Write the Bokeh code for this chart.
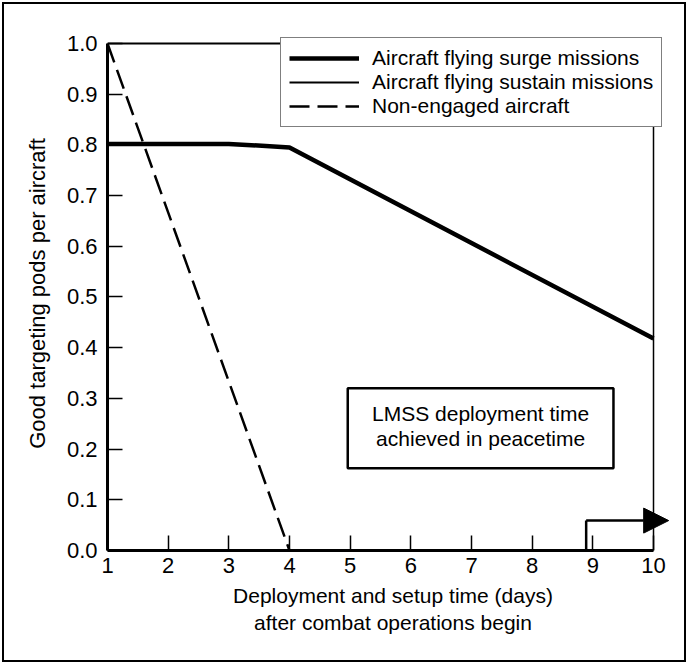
from bokeh.plotting import figure
from bokeh.models import (Range1d, FixedTicker, NumeralTickFormatter, Legend, LegendItem,
                          Arrow, NormalHead)
from bokeh.core.properties import value
from bokeh.embed import file_html
from bokeh.resources import INLINE

# ---- data ----
x_ticks = [1, 2, 3, 4, 5, 6, 7, 8, 9, 10]
y_ticks = [0.0, 0.1, 0.2, 0.3, 0.4, 0.5, 0.6, 0.7, 0.8, 0.9, 1.0]

surge_days = [1, 3, 4, 10]
surge_pods = [0.802, 0.802, 0.795, 0.418]

sustain_days = [1, 10]
sustain_pods = [1.0, 1.0]

nonengaged_days = [1, 4, 10]
nonengaged_pods = [1.0, 0.0, 0.0]

series_names = ["Aircraft flying surge missions",
                "Aircraft flying sustain missions",
                "Non-engaged aircraft"]

lmss_day = 8.89
lmss_level = 0.059
arrow_tip_day = 10.25
box_text = ["LMSS deployment time", "achieved in peacetime"]

FONT = "Liberation Sans"

p = figure(width=688, height=664, output_backend="svg", toolbar_location=None,
           x_range=Range1d(1, 10.412), y_range=Range1d(0, 1.0138),
           min_border_left=107, min_border_right=10, min_border_top=36, min_border_bottom=114)
p.outline_line_color = None
p.grid.visible = False
p.background_fill_color = "white"
# transparent margins so the exhibit's outer frame (CSS outline) shows through
p.border_fill_color = None
p.border_fill_alpha = 0
p.styles = {"outline": "2px solid black", "outline-offset": "-4px", "background-color": "white"}

# right frame edge
p.line(x=[10, 10], y=[0, 1.0], line_color="black", line_width=1.5)

r_sustain = p.line(x=sustain_days, y=sustain_pods, line_color="black", line_width=1.8)
r_nonengaged = p.line(x=nonengaged_days, y=nonengaged_pods, line_color="black",
                      line_width=2.5, line_dash="20 8")
r_surge = p.line(x=surge_days, y=surge_pods, line_color="black", line_width=4.5)

# LMSS box
p.quad(left=[4.96], right=[9.34], bottom=[0.162], top=[0.32],
       fill_color="white", line_color="black", line_width=2.5)
p.text(x=[7.15, 7.15], y=[0.270, 0.221], text=box_text,
       text_align="center", text_baseline="middle",
       text_font=value(FONT), text_font_size="21px", text_color="black")

# LMSS arrow
p.line(x=[lmss_day, lmss_day], y=[0, lmss_level], line_color="black", line_width=2.5)
p.add_layout(Arrow(x_start=lmss_day, y_start=lmss_level, x_end=arrow_tip_day, y_end=lmss_level,
                   line_color="black", line_width=2.5,
                   end=NormalHead(size=25, fill_color="black", line_color="black")))

# axes
for ax in (p.xaxis[0], p.yaxis[0]):
    ax.axis_line_width = 3
    ax.axis_line_color = "black"
    ax.major_tick_in = 15
    ax.major_tick_out = 0
    ax.major_tick_line_width = 1.5
    ax.major_tick_line_color = "black"
    ax.minor_tick_line_color = None
    ax.major_label_text_font = FONT
    ax.major_label_text_font_size = "22px"
    ax.major_label_text_color = "black"
    ax.axis_label_text_font = FONT
    ax.axis_label_text_font_style = "normal"
    ax.axis_label_text_color = "black"

p.xaxis.ticker = FixedTicker(ticks=x_ticks)
p.xaxis.bounds = (1, 10)
p.xaxis.major_label_standoff = 7
p.xaxis.axis_label = "Deployment and setup time (days)\nafter combat operations begin"
p.xaxis.axis_label_text_font_size = "21px"
p.xaxis.axis_label_standoff = 8

p.yaxis.ticker = FixedTicker(ticks=y_ticks)
p.yaxis.formatter = NumeralTickFormatter(format="0.0")
p.yaxis.bounds = (0, 1)
p.yaxis.major_label_standoff = 10
p.yaxis.axis_label = "Good targeting pods per aircraft"
p.yaxis.axis_label_text_font_size = "22px"
p.yaxis.axis_label_standoff = 14

legend = Legend(items=[LegendItem(label=series_names[0], renderers=[r_surge]),
                       LegendItem(label=series_names[1], renderers=[r_sustain]),
                       LegendItem(label=series_names[2], renderers=[r_nonengaged])],
                location=(173, 423), orientation="vertical",
                padding=8, spacing=0, margin=0,
                label_height=24, glyph_height=24, glyph_width=70, label_standoff=13,
                label_text_font=FONT, label_text_font_size="21px", label_text_color="black",
                border_line_color="black", border_line_width=1.5,
                background_fill_color="white", background_fill_alpha=1.0)
p.add_layout(legend)

open("out.html", "w").write(file_html(p, INLINE))
